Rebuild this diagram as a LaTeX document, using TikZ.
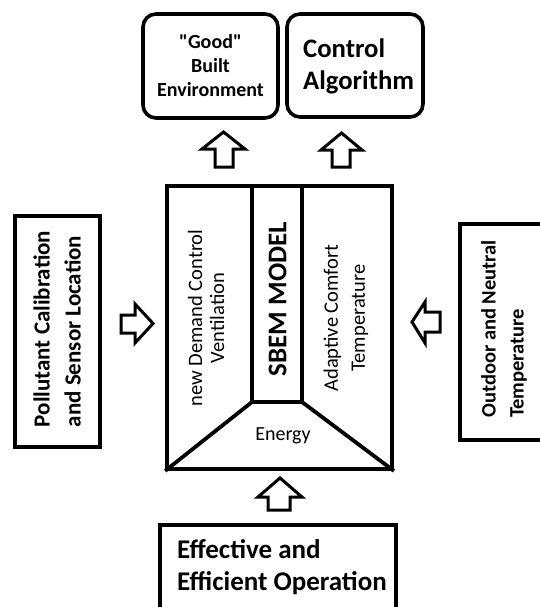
\documentclass[tikz,border=0pt]{standalone}
\usepackage{fontspec}
\setmainfont{Carlito}[Ligatures=TeXOff]
\begin{document}
\begin{tikzpicture}[x=1pt,y=-1pt,
  box/.style={draw, line width=3.8pt},
  rbox/.style={box, line width=3.6pt, rounded corners=13pt},
  barrow/.style={draw, line width=3pt, line join=miter, fill=white},
  ]
\useasboundingbox (0,0) rectangle (540,607);
\fill[white] (0,0) rectangle (540,607);
\clip (0,0) rectangle (540,607);

% boxes
\node[rbox, minimum width=135pt, minimum height=104pt] (good) at (210.5,66) {};
\node[rbox, minimum width=136pt, minimum height=103pt] (ctrl) at (355,65.5) {};
\node[box, minimum width=225pt, minimum height=283pt] (main) at (279.5,327.5) {};
\node[box, minimum width=85pt, minimum height=231pt] (left) at (57.5,331.5) {};
\node[box, minimum width=110pt, minimum height=216pt] (right) at (515,332) {};
\node[box, minimum width=236pt, minimum height=115pt] (bottom) at (278,582.5) {};

% inner structure of main box
\coordinate (cl) at (252,402);
\coordinate (cr) at (302,402);
\draw[box, line join=miter] (cl |- main.north) -- (cl) -- (cr) -- (cr |- main.north);
\draw[box] (cl) -- (main.south west);
\draw[box] (cr) -- (main.south east);

% texts
\node[font=\fontsize{20}{24}\selectfont\bfseries, align=center] (goodt) at (good.center) {"Good"\\Built\\Environment};
\node[font=\fontsize{26.7}{32}\selectfont\bfseries, align=left, anchor=north west, inner sep=0pt] (ctrlt) at (303,39) {Control\\Algorithm};
\node[rotate=90, font=\fontsize{27}{32}\selectfont\bfseries] (sbem) at (277.5,299) {SBEM MODEL};
\node[rotate=90, font=\fontsize{20.5}{22}\selectfont, align=center] (dcv) at (206,318) {new Demand Control\\Ventilation};
\node[rotate=90, font=\fontsize{20.5}{27}\selectfont, align=center] (act) at (346,318) {Adaptive Comfort\\Temperature};
\node[font=\fontsize{20}{24}\selectfont] (energy) at (283,436) {Energy};
\node[rotate=90, align=left, font=\fontsize{23}{31}\selectfont\bfseries] (leftt) at (57,329) {Pollutant Calibration\\and Sensor Location};
\node[rotate=90, align=left, font=\fontsize{20.5}{28}\selectfont\bfseries] (rightt) at (504,329) {Outdoor and Neutral\\Temperature};
\node[anchor=north west, align=left, inner sep=0pt, font=\fontsize{27}{32}\selectfont\bfseries] (bottomt) at (177,539) {Effective and\\Efficient Operation};

% block arrows
\draw[barrow] (215,167) -- (215,149) -- (202,149) -- (223.5,132) -- (245,149) -- (233,149) -- (233,167) -- cycle;
\draw[barrow] (332,167) -- (332,150) -- (321,150) -- (341.5,133) -- (362,150) -- (350,150) -- (350,167) -- cycle;
\draw[barrow] (121,315) -- (135,315) -- (135,304) -- (153,323.5) -- (135,343) -- (135,333) -- (121,333) -- cycle;
\draw[barrow] (440,312) -- (425,312) -- (425,302) -- (412,322) -- (425,343) -- (425,332) -- (440,332) -- cycle;
\draw[barrow] (268,510) -- (268,497) -- (258,497) -- (280,478) -- (302,497) -- (290,497) -- (290,510) -- cycle;
\end{tikzpicture}
\end{document}
